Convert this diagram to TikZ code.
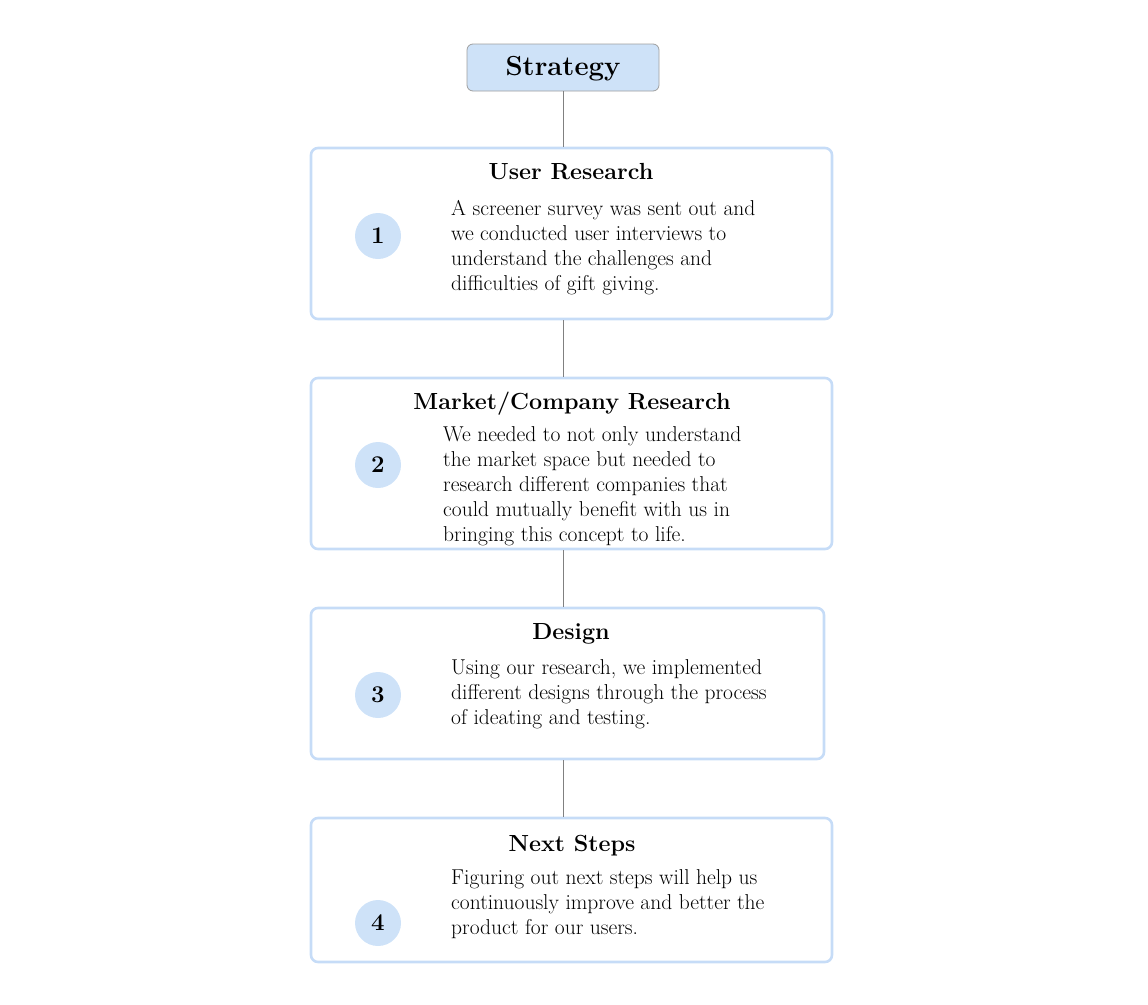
\documentclass[tikz,border=0pt]{standalone}
\usepackage{tikz}
\usetikzlibrary{shapes,calc}
\definecolor{paleblue}{HTML}{CEE2F8}
\definecolor{edgeblue}{HTML}{C6DCF7}
\tikzstyle{titlebox}=[draw=gray!75, fill=paleblue, rounded corners=6pt, line width=0.8pt, minimum width=192pt, minimum height=47pt, inner sep=0pt, text depth=3pt, font=\fontsize{27.5}{30}\selectfont\bfseries]
\tikzstyle{stepbox}=[draw=edgeblue, line width=2.6pt, rounded corners=7pt, inner sep=0pt]
\tikzstyle{numdot}=[circle, fill=paleblue, minimum size=46pt, inner sep=0pt, font=\fontsize{24}{26}\selectfont\bfseries]
\tikzstyle{headtext}=[anchor=base, inner sep=0pt, font=\fontsize{23.3}{26}\selectfont\bfseries]
\tikzstyle{bodytext}=[anchor=north west, align=left, inner sep=0pt, font=\fontsize{21.5}{25}\selectfont]
\tikzstyle{link}=[draw=gray, line width=0.8pt]

\begin{document}
\begin{tikzpicture}[x=1pt,y=-1pt]
	\useasboundingbox (0,0) rectangle (1148,1004);
	\node[titlebox] (strategy) at (563,67.5) {Strategy};
	% the four steps
	\node[stepbox, minimum width=521pt, minimum height=171pt] (box1) at (571.5,233.5) {};
	\node[stepbox, minimum width=521pt, minimum height=171pt] (box2) at (571.5,463.5) {};
	\node[stepbox, minimum width=513pt, minimum height=151pt] (box3) at (567.5,683.5) {};
	\node[stepbox, minimum width=521pt, minimum height=144pt] (box4) at (571.5,890) {};
	\draw[link] (strategy.south) -- (strategy.south |- box1.north);
	\draw[link] (box1.south -| strategy) -- (box2.north -| strategy);
	\draw[link] (box2.south -| strategy) -- (box3.north -| strategy);
	\draw[link] (box3.south -| strategy) -- (box4.north -| strategy);
	\node[numdot] (num1) at (378,236) {1};
	\node[numdot] (num2) at (378,465) {2};
	\node[numdot] (num3) at (378,695) {3};
	\node[numdot] (num4) at (378,923) {4};
	\node[headtext] (head1) at (571,179) {User Research};
	\node[headtext] (head2) at (572,409) {Market/Company Research};
	\node[headtext] (head3) at (571,639) {Design};
	\node[headtext] (head4) at (572,851) {Next Steps};
	\node[bodytext] (text1) at (451,200) {A screener survey was sent out and\\we conducted user interviews to\\understand the challenges and\\difficulties of gift giving.};
	\node[bodytext] (text2) at (443,426) {We needed to not only understand\\the market space but needed to\\research different companies that\\could mutually benefit with us in\\bringing this concept to life.};
	\node[bodytext] (text3) at (451,659) {Using our research, we implemented\\different designs through the process\\of ideating and testing.};
	\node[bodytext] (text4) at (451,869) {Figuring out next steps will help us\\continuously improve and better the\\product for our users.};
\end{tikzpicture}
\end{document}
